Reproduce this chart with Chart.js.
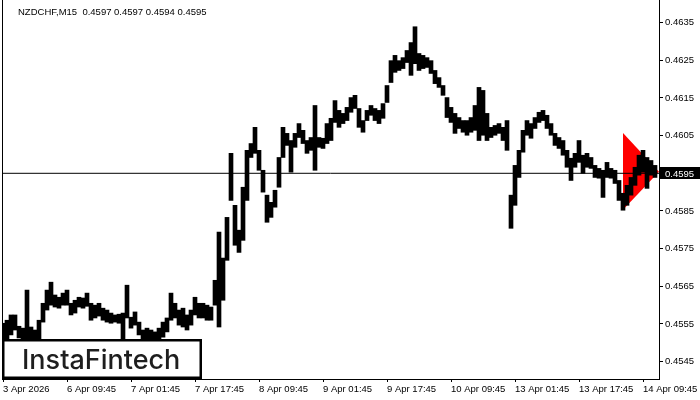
<!DOCTYPE html>
<html>
<head>
<meta charset="utf-8">
<title>NZDCHF M15</title>
<script src="https://cdn.jsdelivr.net/npm/chart.js@4.4.1/dist/chart.umd.min.js"></script>
<style>
  html, body { margin: 0; padding: 0; background: #ffffff; }
  #wrap { width: 700px; height: 400px; }
</style>
</head>
<body>
<div id="wrap"><canvas id="chart" width="700" height="400"></canvas></div>
<script>
// NZDCHF M15, 3 Apr - 14 Apr 2026 (one sample every 4 bars, high / low)
const highs = [
  0.45552, 0.45560, 0.45574, 0.45574, 0.45544, 0.45539, 0.45640, 0.45542, 0.45534, 0.45560,
  0.45605, 0.45640, 0.45661, 0.45627, 0.45621, 0.45632, 0.45640, 0.45605, 0.45613, 0.45621,
  0.45619, 0.45632, 0.45605, 0.45600, 0.45605, 0.45592, 0.45587, 0.45579, 0.45574, 0.45576,
  0.45579, 0.45653, 0.45568, 0.45582, 0.45555, 0.45534, 0.45539, 0.45534, 0.45529, 0.45539,
  0.45555, 0.45566, 0.45632, 0.45605, 0.45587, 0.45592, 0.45574, 0.45587, 0.45621, 0.45605,
  0.45605, 0.45600, 0.45595, 0.45666, 0.45794, 0.45725, 0.45833, 0.46003, 0.45865, 0.45799,
  0.45913, 0.46011, 0.46029, 0.46072, 0.46011, 0.45958, 0.45892, 0.45873, 0.45905, 0.45992,
  0.46072, 0.46056, 0.46037, 0.46056, 0.46082, 0.46064, 0.46037, 0.46045, 0.46130, 0.46045,
  0.46043, 0.46082, 0.46096, 0.46143, 0.46117, 0.46109, 0.46125, 0.46151, 0.46157, 0.46122,
  0.46090, 0.46117, 0.46130, 0.46122, 0.46117, 0.46135, 0.46183, 0.46249, 0.46263, 0.46249,
  0.46257, 0.46276, 0.46297, 0.46339, 0.46268, 0.46263, 0.46257, 0.46249, 0.46223, 0.46204,
  0.46183, 0.46151, 0.46125, 0.46109, 0.46098, 0.46090, 0.46090, 0.46098, 0.46130, 0.46178,
  0.46170, 0.46109, 0.46072, 0.46077, 0.46082, 0.46072, 0.46090, 0.45892, 0.45971, 0.46011,
  0.46064, 0.46090, 0.46082, 0.46098, 0.46112, 0.46117, 0.46104, 0.46082, 0.46056, 0.46045,
  0.46037, 0.46011, 0.45990, 0.46003, 0.46037, 0.45998, 0.46003, 0.45992, 0.45971, 0.45963,
  0.45958, 0.45979, 0.45963, 0.45958, 0.45931, 0.45897, 0.45918, 0.45939, 0.45966, 0.45998,
  0.46011, 0.45992, 0.45984, 0.45971
];
const lows = [
  0.45494, 0.45502, 0.45521, 0.45534, 0.45513, 0.45507, 0.45507, 0.45507, 0.45502, 0.45502,
  0.45555, 0.45587, 0.45600, 0.45595, 0.45592, 0.45600, 0.45600, 0.45574, 0.45579, 0.45595,
  0.45592, 0.45597, 0.45560, 0.45566, 0.45571, 0.45560, 0.45555, 0.45552, 0.45555, 0.45552,
  0.45507, 0.45566, 0.45539, 0.45547, 0.45521, 0.45507, 0.45507, 0.45507, 0.45507, 0.45507,
  0.45515, 0.45529, 0.45560, 0.45566, 0.45547, 0.45542, 0.45534, 0.45547, 0.45574, 0.45566,
  0.45566, 0.45560, 0.45560, 0.45600, 0.45542, 0.45613, 0.45719, 0.45878, 0.45759, 0.45740,
  0.45772, 0.45878, 0.45992, 0.46003, 0.45958, 0.45900, 0.45820, 0.45833, 0.45860, 0.45913,
  0.45992, 0.46024, 0.45953, 0.46019, 0.46045, 0.46029, 0.46003, 0.46011, 0.45958, 0.46019,
  0.46016, 0.46029, 0.46037, 0.46085, 0.46072, 0.46082, 0.46090, 0.46112, 0.46122, 0.46072,
  0.46059, 0.46090, 0.46104, 0.46090, 0.46082, 0.46096, 0.46138, 0.46191, 0.46218, 0.46223,
  0.46228, 0.46244, 0.46210, 0.46241, 0.46223, 0.46228, 0.46231, 0.46215, 0.46188, 0.46178,
  0.46157, 0.46098, 0.46085, 0.46056, 0.46069, 0.46059, 0.46051, 0.46059, 0.46064, 0.46037,
  0.46051, 0.46037, 0.46045, 0.46051, 0.46056, 0.46037, 0.46011, 0.45804, 0.45865, 0.45939,
  0.46006, 0.46051, 0.46043, 0.46069, 0.46085, 0.46090, 0.46069, 0.46051, 0.46024, 0.46016,
  0.45998, 0.45966, 0.45931, 0.45966, 0.45979, 0.45950, 0.45966, 0.45963, 0.45939, 0.45937,
  0.45886, 0.45939, 0.45937, 0.45923, 0.45878, 0.45852, 0.45865, 0.45892, 0.45918, 0.45945,
  0.45953, 0.45910, 0.45945, 0.45939
];
const barStep = 4; // M15 bars between samples

// last bar: open, high, low, close
const lastQuote = [0.4597, 0.4597, 0.4594, 0.4595];

const xTickPos = [0, 64, 128, 192, 256, 320, 384, 448, 512, 576, 640];
const xTickLabels = ['3 Apr 2026', '6 Apr 09:45', '7 Apr 01:45', '7 Apr 17:45', '8 Apr 09:45',
  '9 Apr 01:45', '9 Apr 17:45', '10 Apr 09:45', '13 Apr 01:45', '13 Apr 17:45', '14 Apr 09:45'];
const yTicks = [0.4545, 0.4555, 0.4565, 0.4575, 0.4585, 0.4595, 0.4605, 0.4615, 0.4625, 0.4635];

// bearish pennant pattern (bar index / price)
const pennantX = [620, 656, 620];
const pennantY = [0.46057, 0.45954, 0.45853];

const FONT = '"Liberation Sans", Arial, sans-serif';

const bars = highs.map((h, i) => ({ x: i * barStep, y: [lows[i], h] }));

const overlayPlugin = {
  id: 'overlay',
  beforeDatasetsDraw(chart) {
    const { ctx, scales: { x, y } } = chart;
    ctx.save();
    ctx.fillStyle = '#ff0000';
    ctx.beginPath();
    pennantX.forEach((v, i) => {
      const px = x.getPixelForValue(v);
      const py = y.getPixelForValue(pennantY[i]);
      if (i === 0) ctx.moveTo(px, py); else ctx.lineTo(px, py);
    });
    ctx.closePath();
    ctx.fill();
    ctx.restore();
  },
  afterDraw(chart) {
    const { ctx, chartArea, scales: { y } } = chart;
    ctx.save();

    // left frame
    ctx.strokeStyle = '#000000';
    ctx.lineWidth = 1;
    ctx.beginPath();
    ctx.moveTo(2.5, 0);
    ctx.lineTo(2.5, chartArea.bottom);
    ctx.stroke();

    // symbol + last quote
    ctx.fillStyle = '#000000';
    ctx.font = '9.5px ' + FONT;
    ctx.textBaseline = 'alphabetic';
    ctx.textAlign = 'left';
    ctx.fillText('NZDCHF,M15  ' + lastQuote.map(v => v.toFixed(4)).join(' '), 18, 15);

    // current price tag
    const cy = Math.round(y.getPixelForValue(lastQuote[3]));
    ctx.fillStyle = '#000000';
    ctx.fillRect(chartArea.right + 1, cy - 6, 700 - chartArea.right - 1, 12);
    ctx.fillStyle = '#ffffff';
    ctx.textBaseline = 'middle';
    ctx.fillText(lastQuote[3].toFixed(4), chartArea.right + 6, cy + 1);

    // logo
    ctx.fillStyle = '#ffffff';
    ctx.fillRect(2, 339, 200, 40);
    ctx.strokeStyle = '#000000';
    ctx.lineWidth = 2.5;
    ctx.strokeRect(3.25, 340.25, 197.5, 37.5);
    ctx.fillStyle = '#1e1e1e';
    ctx.font = '500 27px Inter, sans-serif';
    ctx.textBaseline = 'alphabetic';
    ctx.fillText('InstaFintech', 22, 369);

    ctx.restore();
  }
};

new Chart(document.getElementById('chart'), {
  type: 'bar',
  data: {
    datasets: [
      {
        type: 'line',
        data: [{ x: -1, y: lastQuote[3] }, { x: 656, y: lastQuote[3] }],
        borderColor: '#000000',
        borderWidth: 1,
        pointRadius: 0,
        order: 0,
      },
      {
        type: 'bar',
        data: bars,
        backgroundColor: '#000000',
        borderWidth: 0,
        barThickness: 4,
        grouped: false,
        order: 1,
      },
    ],
  },
  options: {
    responsive: false,
    devicePixelRatio: 1,
    animation: false,
    layout: { padding: { left: 2, top: 0, right: 0, bottom: 0 } },
    plugins: {
      legend: { display: false },
      tooltip: { enabled: false },
    },
    scales: {
      x: {
        type: 'linear',
        min: -1,
        max: 656,
        offset: false,
        grid: { offset: false, drawOnChartArea: false, color: '#000000', tickLength: 3 },
        border: { color: '#000000', width: 1 },
        afterBuildTicks: (scale) => { scale.ticks = xTickPos.map(v => ({ value: v })); },
        afterFit: (scale) => { scale.height = 21; scale.paddingLeft = 0; scale.paddingRight = 0; },
        ticks: {
          autoSkip: false,
          maxRotation: 0,
          align: 'start',
          padding: 2,
          color: '#000000',
          font: { family: FONT, size: 9.5 },
          callback: (value, index) => xTickLabels[index],
        },
      },
      y: {
        position: 'right',
        min: 0.45404,
        max: 0.46410,
        grid: { drawOnChartArea: false, color: '#000000', tickLength: 4 },
        border: { color: '#000000', width: 1 },
        afterBuildTicks: (scale) => { scale.ticks = yTicks.map(v => ({ value: v })); },
        afterFit: (scale) => { scale.width = 41; scale.paddingTop = 0; scale.paddingBottom = 0; },
        ticks: {
          padding: 2,
          color: '#000000',
          font: { family: FONT, size: 9.5 },
          callback: (value) => Number(value).toFixed(4),
        },
      },
    },
  },
  plugins: [overlayPlugin],
});
</script>
</body>
</html>
